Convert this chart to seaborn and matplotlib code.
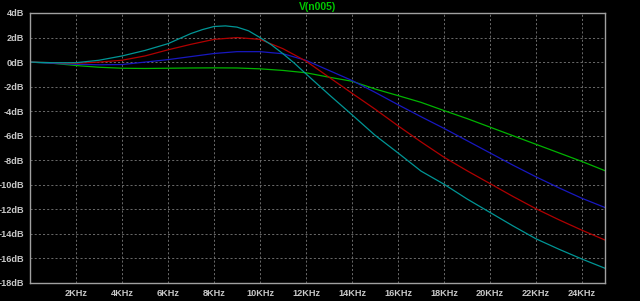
import numpy as np
import pandas as pd
import matplotlib
matplotlib.use("Agg")
import matplotlib.pyplot as plt
import seaborn as sns

# frequencies in kHz
freq = [0, 1, 2, 3, 4, 5, 6, 7, 8, 9, 10, 11, 12, 13, 14, 15, 16, 17, 18, 19, 20, 21, 22, 23, 24, 25]
freq_fine = [0, 1, 2, 3, 4, 5, 6, 7, 7.5, 8, 8.5, 9, 9.5, 10, 10.5, 11, 11.5, 12, 13, 14, 15, 16, 17, 18, 19, 20, 21, 22, 23, 24, 25]

green_db = [0, -0.1, -0.28, -0.42, -0.5, -0.52, -0.5, -0.48, -0.47, -0.48, -0.55, -0.68, -0.87,
            -1.23, -1.56, -2.19, -2.73, -3.28, -3.95, -4.6, -5.3, -6.0, -6.7, -7.4, -8.1, -8.85]
blue_db = [0, -0.1, -0.18, -0.22, -0.2, 0.0, 0.2, 0.45, 0.7, 0.85, 0.85, 0.68, 0.14,
           -0.68, -1.5, -2.46, -3.47, -4.45, -5.4, -6.4, -7.4, -8.4, -9.35, -10.25, -11.1, -11.85]
red_db = [0, -0.05, -0.1, 0.0, 0.15, 0.5, 1.0, 1.45, 1.85, 2.0, 1.85, 1.09, 0.08,
          -1.23, -2.54, -3.83, -5.19, -6.5, -7.75, -8.85, -9.9, -10.95, -11.95, -12.85, -13.7, -14.5]
cyan_db = [0, -0.05, -0.05, 0.15, 0.5, 0.95, 1.5, 2.33, 2.65, 2.9, 2.95, 2.85, 2.55, 2.0, 1.4, 0.68,
           -0.1, -0.96, -2.65, -4.29, -5.96, -7.4, -8.88, -9.95, -11.15, -12.25, -13.35, -14.4,
           -15.25, -16.05, -16.8]

series = ["green", "blue", "red", "cyan"]
colors = {"green": "#00b400", "blue": "#1818c0", "red": "#b00000", "cyan": "#009696"}

xticks = [2, 4, 6, 8, 10, 12, 14, 16, 18, 20, 22, 24]
xticklabels = [f"{v}KHz" for v in xticks]
yticks = [4, 2, 0, -2, -4, -6, -8, -10, -12, -14, -16, -18]
yticklabels = [f"{v}dB" for v in yticks]
title = "V(n005)"

frames = []
for name, f, v in [("green", freq, green_db), ("blue", freq, blue_db),
                   ("red", freq, red_db), ("cyan", freq_fine, cyan_db)]:
    frames.append(pd.DataFrame({"freq": f, "db": v, "trace": name}))
df = pd.concat(frames, ignore_index=True)

sns.set_style("dark")
plt.rcParams["font.family"] = ["Liberation Sans", "DejaVu Sans"]

fig = plt.figure(figsize=(6.4, 3.01), dpi=100, facecolor="black")
ax = fig.add_axes([30 / 640, 1 - 283 / 301, 575 / 640, 270 / 301])
ax.set_facecolor("black")

for name in series:
    sns.lineplot(data=df[df["trace"] == name], x="freq", y="db", color=colors[name],
                 linewidth=0.9, ax=ax, legend=False, estimator=None, sort=False)

ax.set_xlim(0, 25)
ax.set_ylim(-18, 4)
ax.set_xticks(xticks)
ax.set_xticklabels(xticklabels)
ax.set_yticks(yticks)
ax.set_yticklabels(yticklabels)
ax.set_xlabel("")
ax.set_ylabel("")

ax.grid(True, color="#7a7a7a", linestyle=(0, (2.5, 2.5)), linewidth=0.6)
for s in ["left", "bottom", "right", "top"]:
    ax.spines[s].set_color("#a0a0a0")
    ax.spines[s].set_linewidth(1.0)
    ax.spines[s].set_visible(True)

ax.tick_params(axis="both", colors="#a0a0a0", labelcolor="#c8c8c8", length=3, width=1,
               direction="out", labelsize=6.6, pad=1)
for lbl in ax.get_xticklabels() + ax.get_yticklabels():
    lbl.set_fontweight("bold")

ax.set_title(title, color="#00c800", fontsize=7.5, fontweight="bold", pad=2)

fig.savefig("out.png", dpi=100, facecolor="black")
